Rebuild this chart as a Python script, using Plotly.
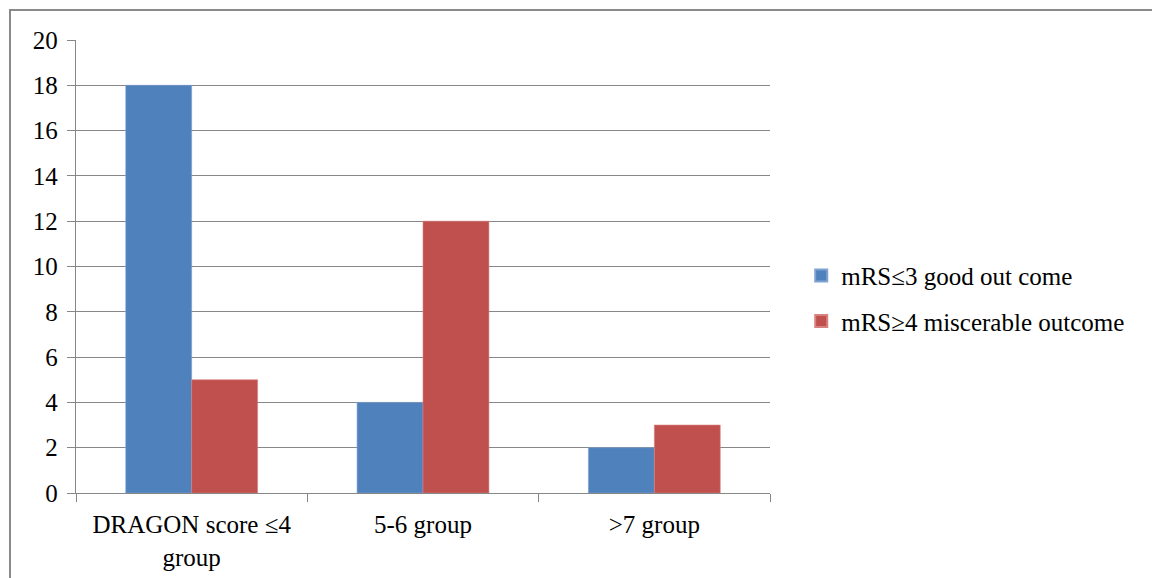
import plotly.graph_objects as go

categories = ["DRAGON score ≤4<br>group", "5-6 group", ">7 group"]
good_outcome = [18, 4, 2]
poor_outcome = [5, 12, 3]
series_names = ["mRS≤3 good out come", "mRS≥4 miscerable outcome"]
y_ticks = [0, 2, 4, 6, 8, 10, 12, 14, 16, 18, 20]

GRID = "#878787"
FONT = dict(family="'Times New Roman', 'Liberation Serif', 'DejaVu Serif', serif", size=25, color="#000000")

fig = go.Figure()
fig.add_trace(go.Bar(x=categories, y=good_outcome, name=series_names[0], legendgroup="a",
                     marker=dict(color="#4F81BD", line=dict(color="#7FA3D0", width=0.6))))
fig.add_trace(go.Bar(x=categories, y=poor_outcome, name=series_names[1], legendgroup="b",
                     marker=dict(color="#C0504D", line=dict(color="#D88280", width=0.6))))

fig.update_layout(
    width=1152, height=578,
    margin=dict(l=76, r=382, t=40, b=85),
    paper_bgcolor="white", plot_bgcolor="white",
    barmode="group", bargap=0.43, bargroupgap=0,
    font=FONT,
    showlegend=True,
    legend=dict(x=1.045, y=0.43, xanchor="left", yanchor="middle",
                font=FONT, traceorder="grouped",
                itemsizing="constant", tracegroupgap=10, bgcolor="rgba(0,0,0,0)"),
)

fig.update_yaxes(range=[0, 20], tickvals=y_ticks, showgrid=True, gridcolor=GRID, gridwidth=1.3,
                 showline=True, linecolor=GRID, linewidth=1.3,
                 ticks="outside", ticklen=8, tickcolor=GRID, tickwidth=1.3,
                 zeroline=False, tickfont=FONT, ticklabelstandoff=4, automargin=False)
fig.update_xaxes(showline=True, linecolor=GRID, linewidth=1.3,
                 ticks="outside", tickson="boundaries", ticklen=8, tickcolor=GRID, tickwidth=1.3,
                 tickfont=FONT, showgrid=False, ticklabelstandoff=9, automargin=False)

# outer chart frame (left and top edges)
fig.add_shape(type="path", xref="paper", yref="paper",
              path="M -0.0951,-0.2 L -0.0951,1.066 L 1.6,1.066",
              line=dict(color="#8a8a8a", width=2))

fig.write_html("out.html")
